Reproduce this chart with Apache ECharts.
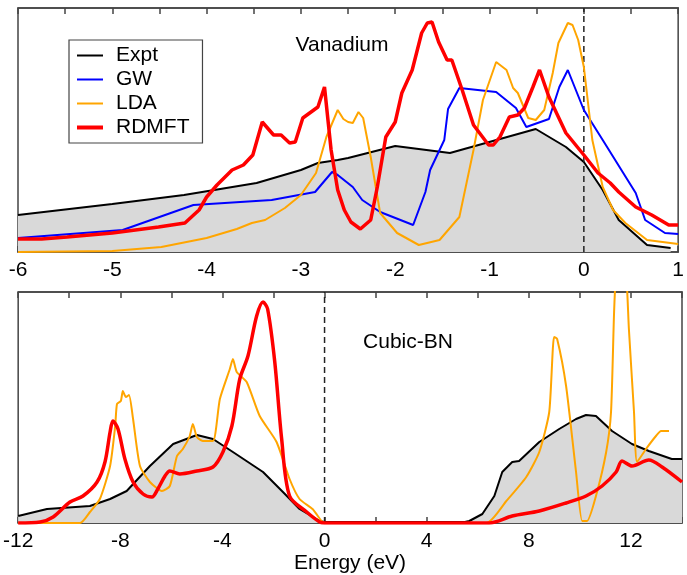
<!DOCTYPE html>
<html>
<head>
<meta charset="utf-8">
<script src="https://cdn.jsdelivr.net/npm/echarts@6/dist/echarts.min.js"></script>
<style>
  html, body { margin: 0; padding: 0; background: #fff; }
  #main { width: 687px; height: 575px; }
</style>
</head>
<body>
<div id="main"></div>
<script>
// Vanadium panel: [energy (eV), DOS arb. units]
var vExpt = [[-6,37],[-5,48],[-4.24,57],[-3.47,69],[-3,82],[-2.82,89],[-2.61,92],[-2.5,94],[-2,106],[-1.42,99],[-0.51,123],[-0.19,105],[0,90],[0.2,62],[0.37,32],[0.67,7],[0.92,4]];
var vGW = [[-6,14],[-4.89,22],[-4.14,47],[-3.31,52],[-2.85,60],[-2.67,80],[-2.61,77],[-2.45,65],[-2.35,52],[-2.16,40],[-1.81,27],[-1.68,60],[-1.63,82],[-1.48,112],[-1.44,143],[-1.32,164],[-0.93,160],[-0.72,144],[-0.61,125],[-0.37,133],[-0.26,165],[-0.17,182],[0,142],[0.2,112],[0.55,59],[0.65,32],[0.86,19],[1,18]];
var vLDA = [[-6,0],[-5,1],[-4.48,5],[-4,14],[-3.68,23],[-3.52,29],[-3.38,32],[-3.17,44],[-3,57],[-2.84,79],[-2.73,115],[-2.61,142],[-2.55,133],[-2.5,130],[-2.45,129],[-2.39,140],[-2.34,134],[-2.26,95],[-2.16,39],[-1.98,19],[-1.75,7],[-1.53,12],[-1.32,35],[-1.17,102],[-1.07,152],[-0.93,190],[-0.82,182],[-0.75,164],[-0.7,159],[-0.59,134],[-0.51,132],[-0.42,142],[-0.33,179],[-0.27,209],[-0.22,219],[-0.17,229],[-0.12,227],[-0.06,212],[0,185],[0.09,112],[0.2,65],[0.31,42],[0.44,29],[0.67,12],[1,8]];
var vRDMFT = [[-6,13],[-5.75,13],[-5.48,15],[-5,19],[-4.51,25],[-4.23,29],[-4.08,42],[-4,55],[-3.89,67],[-3.73,82],[-3.61,87],[-3.51,97],[-3.41,130],[-3.29,117],[-3.21,117],[-3.12,109],[-3.06,110],[-2.98,134],[-2.82,145],[-2.75,165],[-2.68,102],[-2.61,62],[-2.54,42],[-2.47,30],[-2.37,23],[-2.26,32],[-2.19,65],[-2.1,115],[-2,130],[-1.93,159],[-1.82,182],[-1.72,219],[-1.66,229],[-1.61,230],[-1.54,210],[-1.45,192],[-1.4,192],[-1.29,162],[-1.17,127],[-1.01,107],[-0.96,107],[-0.89,115],[-0.79,135],[-0.7,137],[-0.63,144],[-0.54,165],[-0.47,182],[-0.37,155],[-0.19,119],[0,97],[0.15,79],[0.28,69],[0.37,60],[0.55,45],[0.72,37],[0.9,27],[1,27]];

// Cubic-BN panel
var bnExpt = [[-12,7],[-10.87,14],[-9.19,17],[-8.4,24],[-7.75,32],[-6.84,57],[-5.93,79],[-5,88],[-4.37,84],[-3.59,71],[-2.41,51],[-1.63,31],[-0.98,14],[-0.19,2],[0,1],[5.5,1],[5.67,2],[6.18,9],[6.65,27],[6.96,51],[7.35,61],[7.62,62],[8.41,81],[9.19,94],[9.85,104],[10.24,108],[10.63,107],[11.26,92],[12.04,79],[12.7,72],[13.6,64],[14,64]];
var bnLDA = [[-12,0],[-9.58,0],[-9.19,11],[-8.8,24],[-8.4,57],[-8.2,97],[-8.13,119],[-7.98,122],[-7.9,132],[-7.78,126],[-7.66,128],[-7.5,104],[-7.23,57],[-6.84,41],[-6.37,32],[-6.06,37],[-5.78,67],[-5.55,74],[-5.28,87],[-5.16,99],[-5,86],[-4.77,82],[-4.37,82],[-4.1,124],[-3.71,154],[-3.59,164],[-3.44,151],[-3.05,141],[-2.54,107],[-1.88,81],[-1.37,44],[-0.98,24],[-0.47,14],[-0.12,2],[0,0],[6.33,0],[7.12,22],[7.9,46],[8.41,71],[8.8,111],[8.99,186],[9.11,184],[9.46,137],[9.85,51],[10.09,2],[10.28,2],[10.63,27],[11.03,71],[11.22,111],[11.34,211],[11.42,250],[11.6,275],[11.81,250],[11.92,194],[12.12,111],[12.24,61],[12.59,74],[12.98,87],[13.18,92],[13.49,92]];
var bnRDMFT = [[-12,0],[-11.14,1],[-10.63,6],[-9.97,21],[-9.46,27],[-8.91,41],[-8.6,61],[-8.4,91],[-8.29,102],[-8.09,94],[-7.82,64],[-7.5,41],[-7.11,29],[-6.76,26],[-6.53,34],[-6.25,47],[-6.06,52],[-5.67,49],[-5,52],[-4.37,56],[-3.98,71],[-3.63,97],[-3.32,144],[-3,167],[-2.66,207],[-2.41,221],[-2.23,214],[-1.95,161],[-1.68,84],[-1.37,27],[-0.7,11],[-0.19,1],[0,0],[6.45,0],[7.35,7],[8.41,12],[9.46,20],[10.24,27],[10.87,37],[11.42,51],[11.65,62],[12.04,57],[12.7,63],[13.22,56],[14,41]];

var vFermi = [[0,0],[0,244]];
var bnFermi = [[0,0],[0,231]];

var FONT = 'Liberation Sans, Arial, Helvetica, sans-serif';
var AXIS_COLOR = '#444';
var FS = 21;

var myChart = echarts.init(document.getElementById('main'));

function xAx(grid, min, max, step, labelEvery, pos, showLabel) {
    return {
        type: 'value', gridIndex: grid, min: min, max: max, interval: step, position: pos,
        axisLine: { show: true, onZero: false, lineStyle: { color: AXIS_COLOR, width: 1.5 } },
        axisTick: { show: true, inside: true, length: 6, lineStyle: { color: AXIS_COLOR, width: 1.5 } },
        splitLine: { show: false },
        axisLabel: {
            show: showLabel, color: '#000', fontSize: FS, fontFamily: FONT, margin: 8,
            formatter: function (v) { return (Math.abs(v % labelEvery) < 1e-9) ? String(v) : ''; }
        }
    };
}

function lineS(name, data, color, width, xi, yi, extra) {
    var s = {
        name: name, type: 'line', data: data, xAxisIndex: xi, yAxisIndex: yi,
        symbol: 'none', showSymbol: false,
        lineStyle: { color: color, width: width },
        itemStyle: { color: color },
        emphasis: { disabled: true }
    };
    for (var k in extra) s[k] = extra[k];
    return s;
}

var fillArea = { areaStyle: { color: '#d9d9d9', opacity: 1 } };
var dashed = { lineStyle: { color: '#222', width: 1.5, type: [6, 4] }, itemStyle: { color: '#222' } };

// legend icons: plain line segments
var thin = 'path://M0,0 L26,0 L26,2 L0,2 Z';
var thick = 'path://M0,0 L26,0 L26,4 L0,4 Z';

myChart.setOption({
    animation: false,
    backgroundColor: '#fff',
    textStyle: { fontFamily: FONT },
    grid: [
        { left: 18, right: 5, top: 8, height: 244, show: true, borderColor: AXIS_COLOR, borderWidth: 1.5, backgroundColor: 'transparent' },
        { left: 18, right: 5, top: 292, height: 231, show: true, borderColor: AXIS_COLOR, borderWidth: 1.5, backgroundColor: 'transparent' }
    ],
    legend: {
        data: [
            { name: 'Expt', icon: thin },
            { name: 'GW', icon: thin },
            { name: 'LDA', icon: thin },
            { name: 'RDMFT', icon: thick }
        ],
        orient: 'vertical', left: 69, top: 40,
        selectedMode: false,
        backgroundColor: '#fff', borderColor: AXIS_COLOR, borderWidth: 1.2,
        padding: [5, 13, 5, 8],
        itemWidth: 26, itemHeight: 14, itemGap: 3,
        textStyle: { fontSize: FS, color: '#000', fontFamily: FONT, padding: [0, 0, 0, 8] }
    },
    xAxis: [
        xAx(0, -6, 1, 0.5, 1, 'bottom', true),
        xAx(0, -6, 1, 0.5, 1, 'top', false),
        (function () {
            var a = xAx(1, -12, 14, 2, 4, 'bottom', true);
            a.name = 'Energy (eV)';
            a.nameLocation = 'middle';
            a.nameGap = 29;
            a.nameTextStyle = { fontSize: FS, color: '#000', fontFamily: FONT };
            return a;
        })(),
        xAx(1, -12, 14, 2, 4, 'top', false)
    ],
    yAxis: [
        { type: 'value', gridIndex: 0, min: 0, max: 244, show: false },
        { type: 'value', gridIndex: 1, min: 0, max: 231, show: false }
    ],
    graphic: [
        { type: 'text', x: 342, y: 45, style: { text: 'Vanadium', font: FS + 'px ' + FONT, fill: '#000', textAlign: 'center', textVerticalAlign: 'middle' } },
        { type: 'text', x: 408, y: 342, style: { text: 'Cubic-BN', font: FS + 'px ' + FONT, fill: '#000', textAlign: 'center', textVerticalAlign: 'middle' } }
    ],
    series: [
        lineS('Expt', vExpt, '#000', 2, 0, 0, fillArea),
        lineS('', vFermi, '#222', 1.5, 0, 0, dashed),
        lineS('GW', vGW, '#0000ff', 2, 0, 0, {}),
        lineS('LDA', vLDA, '#ffa500', 2, 0, 0, {}),
        lineS('RDMFT', vRDMFT, '#ff0000', 3.5, 0, 0, {}),

        lineS('Expt', bnExpt, '#000', 2, 2, 1, fillArea),
        lineS('', bnFermi, '#222', 1.5, 2, 1, dashed),
        lineS('LDA', bnLDA, '#ffa500', 2, 2, 1, { smooth: 0.2 }),
        lineS('RDMFT', bnRDMFT, '#ff0000', 3.5, 2, 1, { smooth: 0.3 })
    ]
});
</script>
</body>
</html>
